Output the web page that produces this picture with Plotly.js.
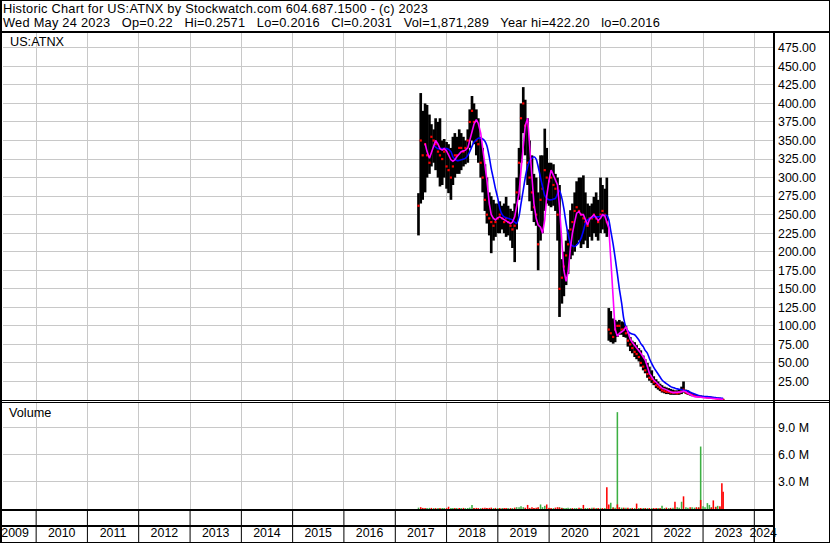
<!DOCTYPE html>
<html><head><meta charset="utf-8">
<script src="https://cdn.plot.ly/plotly-3.0.1.min.js"></script>
<style>html,body{margin:0;padding:0;background:#fff;overflow:hidden}#chart{width:830px;height:543px}</style>
</head><body><div id="chart"></div>
<script>
// semi-monthly sampling dates
const dates = [
'2017-06-15','2017-07-01','2017-07-15','2017-08-01','2017-08-15','2017-09-01','2017-09-15','2017-10-01','2017-10-15','2017-11-01','2017-11-15','2017-12-01','2017-12-15',
'2018-01-01','2018-01-15','2018-02-01','2018-02-15','2018-03-01','2018-03-15','2018-04-01','2018-04-15','2018-05-01','2018-05-15','2018-06-01','2018-06-15','2018-07-01','2018-07-15','2018-08-01','2018-08-15','2018-09-01','2018-09-15','2018-10-01','2018-10-15','2018-11-01','2018-11-15','2018-12-01','2018-12-15',
'2019-01-01','2019-01-15','2019-02-01','2019-02-15','2019-03-01','2019-03-15','2019-04-01','2019-04-15','2019-05-01','2019-05-15','2019-06-01','2019-06-15','2019-07-01','2019-07-15','2019-08-01','2019-08-15','2019-09-01','2019-09-15','2019-10-01','2019-10-15','2019-11-01','2019-11-15','2019-12-01','2019-12-15',
'2020-01-01','2020-01-15','2020-02-01','2020-02-15','2020-03-01','2020-03-15','2020-04-01','2020-04-15','2020-05-01','2020-05-15','2020-06-01','2020-06-15','2020-07-01','2020-07-15','2020-08-01','2020-08-15','2020-09-01','2020-09-15','2020-10-01','2020-10-15','2020-11-01','2020-11-15','2020-12-01','2020-12-15',
'2021-01-01','2021-01-15','2021-02-01','2021-02-15','2021-03-01','2021-03-15','2021-04-01','2021-04-15','2021-05-01','2021-05-15','2021-06-01','2021-06-15','2021-07-01','2021-07-15','2021-08-01','2021-08-15','2021-09-01','2021-09-15','2021-10-01','2021-10-15','2021-11-01','2021-11-15','2021-12-01','2021-12-15',
'2022-01-01','2022-01-15','2022-02-01','2022-02-15','2022-03-01','2022-03-15','2022-04-01','2022-04-15','2022-05-01','2022-05-15','2022-06-01','2022-06-15','2022-07-01','2022-07-15','2022-08-01','2022-08-15','2022-09-01','2022-09-15','2022-10-01','2022-10-15','2022-11-01','2022-11-15','2022-12-01','2022-12-15',
'2023-01-01','2023-01-15','2023-02-01','2023-02-15','2023-03-01','2023-03-15','2023-04-01','2023-04-15','2023-05-01','2023-05-15','2023-05-24'];

const high = [
279,414,390,400,398,385,372,365,380,375,380,350,352,
348,345,340,355,360,355,365,360,355,350,365,392,410,400,392,380,355,340,318,300,280,275,270,265,
265,268,262,265,274,262,258,255,265,300,340,400,422,405,380,350,330,305,300,280,330,330,366,340,
320,320,318,305,300,290,190,200,215,230,256,265,280,295,300,300,303,280,265,262,265,274,280,270,
300,290,285,300,124,120,110,108,106,108,106,105,100,90,85,80,78,74,70,67,60,55,50,45,
40,32,28,25,22,20,18,17,16,15,14,13,13,14,18,25,14,13,11,9,8,7,6.5,6,
5.5,5,5,4.5,4.2,4,3.5,3,2.6,2.2,1.5];

const low = [
222,265,270,280,300,305,315,320,310,300,288,290,300,
285,279,270,290,300,305,305,310,315,318,320,340,350,345,330,320,300,280,255,238,222,198,215,220,
225,225,230,225,220,222,215,205,186,230,270,320,360,330,290,268,255,240,235,175,215,225,255,265,
262,260,262,255,215,112,130,140,155,170,190,195,200,210,215,205,210,215,205,220,215,225,220,215,
225,230,225,220,80,78,76,78,85,88,88,85,84,72,66,63,58,55,52,45,40,36,30,26,
23,20,16,14,12,10,9,8,8,7,7,7,7,7,8,10,8,7,6,5,4,4,3.5,3,
3,2.8,2.5,2.3,2,1.8,1.5,1.2,1,0.5,0.2];

const close = [
262,350,330,345,330,320,355,350,345,335,330,325,335,
315,310,300,315,330,330,340,340,335,340,350,375,390,375,350,345,320,300,270,250,245,240,235,240,
245,250,245,240,245,240,235,230,235,280,320,380,400,370,320,300,280,260,250,210,270,285,310,300,
295,300,290,285,250,150,165,180,195,210,230,240,255,260,255,250,245,240,235,245,245,250,245,240,
250,255,250,240,95,90,85,95,100,100,95,95,90,80,75,70,65,62,58,50,45,40,35,30,
28,24,20,18,16,13,12,11,11,10,10,10,9,10,12,14,10,9,8,7,6,5,5,4.5,
4,3.8,3.5,3.2,3,2.6,2.2,1.8,1.5,0.9,0.2];

// short moving average (magenta)
const maShort = [
null,null,null,346,335,326,333,343,350,345,339,337,339,
336,330,324,322,324,328,332,335,336,337,340,350,362,372,378,373,360,342,320,297,265,250,245,243,
246,247,245,243,242,240,238,240,247,262,279,310,342,370,380,340,295,265,245,236,233,225,243,275,
297,310,303,297,290,260,215,175,160,172,205,225,240,252,254,250,250,244,236,244,247,250,246,242,
245,250,248,240,232,190,130,95,86,90,92,94,99,92,82,78,74,70,67,63,58,54,45,36,
31,27,24,21,18,16,15,13.5,12,11,10,10,10,10,11,12,11,9,7,6,4.5,4,3.8,3.6,
3.3,3,2.8,2.6,2.4,2.2,1.8,1.5,1.2,1,0.9];

// long moving average (blue)
const maLong = [
null,null,null,null,null,null,null,344,341,339,339,339,339,
339,338,335,328,325,323,323,324,325,326,330,335,342,348,351,353,353,352,349,343,328,312,298,285,
272,258,250,247,246,245,244,243,240,238,248,265,283,300,315,322,326,328,325,315,300,288,276,272,
270,270,271,272,278,283,272,258,238,224,211,208,207,209,213,218,228,238,243,245,246,247,247,247,
248,249,249,249,243,228,210,192,170,150,130,110,98,93,90,89,88,85,81,76,72,67,63,56,
49,44,39,35,31,27,24,22,20,18,17,16,15,14.4,14,13,12.5,12,10.5,9.5,8,7,6,5.4,
5,4.7,4.5,4.2,3.9,3.6,3.2,2.8,2.5,2.3,2.2];

// volume in millions of shares
const volUp = [
0.15,0,0.12,0,0.1,0.12,0,0.1,0,0.1,0,0.1,0.12,
0,0,0.1,0.12,0,0.1,0,0.12,0,0.1,0.12,0.15,0.45,0.1,0,0,0.1,0,0,0.1,0,0,0.1,0,
0.12,0,0.1,0,0,0.1,0,0.1,0,0.2,0.2,0.3,0.2,0,0,0.12,0,0.1,0,0.15,0.5,0.2,0.35,0,
0.15,0,0.1,0,0,0.2,0.15,0.1,0.1,0.15,0.1,0,0.1,0.1,0,0.1,0,0.1,0.1,0,0.15,0,0.1,0,
0.12,0,0.1,0,0,0.7,0.2,0.15,10.7,0.2,0.15,0.1,0.15,0,0.1,0,0.1,0,0.1,0,0.12,0,0.1,0,
0.1,0,0,0.1,0,0.35,0.1,0,0.1,0,0.15,0,0.2,0.15,0.8,0,0.2,0.15,0,0.2,0.15,0.1,0.2,6.9,
0.3,0.2,0.65,0.45,0.2,0,0.25,0.35,0.2,0,0];
const volDown = [
0,0.2,0.1,0.12,0,0,0.12,0,0.1,0,0.12,0,0,
0.1,0.25,0,0,0.12,0,0.1,0,0.12,0,0,0,0,0.1,0.12,0.1,0,0.12,0.15,0.1,0.12,0.15,0,0.12,
0,0.1,0,0.1,0.12,0,0.1,0,0.15,0,0,0,0,0.15,0.45,0.1,0.2,0.1,0.15,0.2,0,0,0,0.5,
0.1,0.12,0,0.15,0.2,0.15,0.1,0,0,0,0,0.1,0,0,0.15,0,0.45,0,0,0.1,0,0.15,0,0.12,
0,0.1,0,2.4,0.5,0,0.15,0,0.5,0.15,0,0.15,0,0.15,0,0.12,0,0.6,0,0.12,0,0.1,0,0.1,
0,0.1,0.1,0,0.1,0,0,0.15,0,0.12,0,0.8,0,0,0,1.4,0,0,0.2,0,0,0.2,0.15,1.0,
0,0,0,0,0.15,0.95,0.2,0,0.3,2.85,1.9];

const yearStarts = ['2010-01-01','2011-01-01','2012-01-01','2013-01-01','2014-01-01','2015-01-01','2016-01-01','2017-01-01','2018-01-01','2019-01-01','2020-01-01','2021-01-01','2022-01-01','2023-01-01','2024-01-01'];
const yearLabels = ['2009','2010','2011','2012','2013','2014','2015','2016','2017','2018','2019','2020','2021','2022','2023','2024'];
const yearLabelPos = ['2009-08-04','2010-07-02','2011-07-02','2012-07-02','2013-07-02','2014-07-02','2015-07-02','2016-07-02','2017-07-02','2018-07-02','2019-07-02','2020-07-02','2021-07-02','2022-07-02','2023-07-02','2024-03-04'];
const priceTicks = [25,50,75,100,125,150,175,200,225,250,275,300,325,350,375,400,425,450,475];
const volTicks = [3,6,9];
const volTickText = ['3.0 M','6.0 M','9.0 M'];

const headerLine1 = 'Historic Chart for US:ATNX by Stockwatch.com 604.687.1500 - (c) 2023';
const headerLine2 = 'Wed May 24 2023\u00a0\u00a0 Op=0.22\u00a0\u00a0 Hi=0.2571\u00a0\u00a0 Lo=0.2016\u00a0\u00a0 Cl=0.2031\u00a0\u00a0 Vol=1,871,289\u00a0\u00a0 Year hi=422.20\u00a0\u00a0 lo=0.2016';

// ---- layout helpers (pixel -> paper) ----
const W = 830, H = 543, ML = 3, MR = 57, MT = 33, MB = 34;
const PW = W - ML - MR, PH = H - MT - MB;
const px = v => (v - ML) / PW;
const py = v => (H - MB - v) / PH;
const FONT = 'Liberation Sans, Arial, sans-serif';
const DAY = 86400000;

const traces = [
  {type:'bar', x: dates, base: low, y: high.map((h,i)=>h-low[i]), xaxis:'x', yaxis:'y',
   marker:{color:'#000000', line:{width:0}}, width: 19*DAY, hoverinfo:'skip', showlegend:false},
  {type:'scatter', mode:'markers', x: dates, y: close, xaxis:'x', yaxis:'y',
   marker:{color:'#ff0000', size:2.2, symbol:'square', line:{width:0}}, hoverinfo:'skip', showlegend:false},
  {type:'scatter', mode:'lines', x: dates, y: maLong, xaxis:'x', yaxis:'y',
   line:{color:'#0000ff', width:1.6, shape:'spline', smoothing:0.6}, connectgaps:false, hoverinfo:'skip', showlegend:false},
  {type:'scatter', mode:'lines', x: dates, y: maShort, xaxis:'x', yaxis:'y',
   line:{color:'#ff00ff', width:1.6}, connectgaps:false, hoverinfo:'skip', showlegend:false},
  {type:'bar', x: dates, y: volUp, xaxis:'x', yaxis:'y2', width: 11*DAY,
   marker:{color:'#3cb043', line:{width:0}}, hoverinfo:'skip', showlegend:false},
  {type:'bar', x: dates, y: volDown, xaxis:'x', yaxis:'y2', width: 11*DAY,
   marker:{color:'#ff0000', line:{width:0}}, hoverinfo:'skip', showlegend:false}
];

const shapes = [];
function hline(y, x0, x1, w){ shapes.push({type:'line', xref:'paper', yref:'paper', x0:px(x0), x1:px(x1), y0:py(y), y1:py(y), line:{color:'#000', width:w}, layer:'above'}); }
function vline(x, y0, y1, w){ shapes.push({type:'line', xref:'paper', yref:'paper', x0:px(x), x1:px(x), y0:py(y0), y1:py(y1), line:{color:'#000', width:w}, layer:'above'}); }
// outer frame
hline(0.5, 0, 830, 1); hline(542.5, 0, 830, 1);
vline(1, 0, 543, 2); vline(829.5, 0, 543, 1);
// header separator
hline(32, 0, 830, 2);
// right label panel separator
vline(774, 32, 543, 2);
// price / volume separator (double line)
hline(400.5, 0, 830, 1); hline(402.5, 0, 830, 1);
// bottom date rows
hline(510, 0, 774, 2); hline(526, 0, 774, 2);
yearStarts.forEach(d => shapes.push({type:'line', xref:'x', yref:'paper', x0:d, x1:d, y0:py(510), y1:py(543), line:{color:'#000', width:1}, layer:'above'}));

// two header lines in one text block; line pitch 14.3px (11px * 1.3), glyphs 12.8px
const SPAN = '<span style="font-size:12.8px;letter-spacing:0.25px">';
const headerText = SPAN + headerLine1 + '</span><br>' + SPAN + headerLine2 + '</span>';

const annotations = [
  {text: headerText, xref:'paper', yref:'paper', x:px(2), y:py(0), xanchor:'left', yanchor:'top', align:'left', showarrow:false, borderpad:0,
   font:{family:FONT, size:11, color:'#000'}},
  {text: 'US:ATNX', xref:'paper', yref:'paper', x:px(8), y:py(41.5), xanchor:'left', yanchor:'middle', showarrow:false, font:{family:FONT, size:12.7, color:'#000'}},
  {text: 'Volume', xref:'paper', yref:'paper', x:px(7), y:py(413), xanchor:'left', yanchor:'middle', showarrow:false, font:{family:FONT, size:12.7, color:'#000'}}
];

const layout = {
  width: W, height: H,
  margin: {l:ML, r:MR, t:MT, b:MB, pad:0},
  paper_bgcolor:'#ffffff', plot_bgcolor:'#ffffff',
  showlegend:false, barmode:'overlay',
  font:{family:FONT, size:12.4, color:'#000'},
  xaxis: {type:'date', range:['2009-05-10','2024-05-13'], anchor:'y2',
    tickmode:'array', tickvals: yearLabelPos, ticktext: yearLabels, ticks:'', showgrid:false,
    ticklabelstandoff: 15, ticklabeloverflow:'allow', tickfont:{family:FONT, size:12.4, color:'#000'},
    minor:{tickmode:'array', tickvals: yearStarts, showgrid:true, gridcolor:'#c8c8c8', gridwidth:1, ticks:''},
    showline:false, zeroline:false, fixedrange:true},
  yaxis: {domain:[py(400), 1], range:[0, 495], side:'right', anchor:'x',
    tickmode:'array', tickvals: priceTicks, tickformat:'.2f', ticks:'', ticklabelstandoff: 4,
    showgrid:true, gridcolor:'#c8c8c8', gridwidth:1, zeroline:false, showline:false,
    tickfont:{family:FONT, size:12.4, color:'#000'}, fixedrange:true},
  yaxis2: {domain:[0, py(403)], range:[0, 11.71], side:'right', anchor:'x',
    tickmode:'array', tickvals: volTicks, ticktext: volTickText, ticks:'', ticklabelstandoff: 4,
    showgrid:true, gridcolor:'#c8c8c8', gridwidth:1, zeroline:false, showline:false,
    tickfont:{family:FONT, size:12.4, color:'#000'}, fixedrange:true},
  shapes: shapes,
  annotations: annotations
};

Plotly.newPlot('chart', traces, layout, {staticPlot:true, displayModeBar:false});
</script>
</body></html>
